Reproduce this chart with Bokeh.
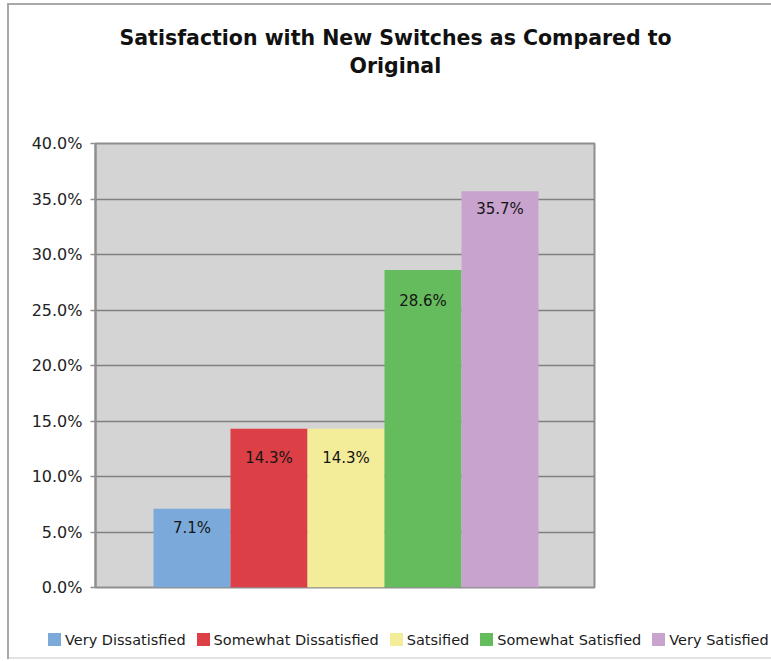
from bokeh.plotting import figure
from bokeh.layouts import column
from bokeh.models import (Range1d, NumeralTickFormatter, FixedTicker, Title, Div,
                          ColumnDataSource)
from bokeh.core.properties import value
from bokeh.embed import file_html
from bokeh.resources import INLINE

# ---- data ----
categories = ["Very Dissatisfied", "Somewhat Dissatisfied", "Satsified",
              "Somewhat Satisfied", "Very Satisfied"]
shares = [0.071, 0.143, 0.143, 0.286, 0.357]
y_ticks = [0.0, 0.05, 0.10, 0.15, 0.20, 0.25, 0.30, 0.35, 0.40]
title_lines = ["Satisfaction with New Switches as Compared to", "Original"]

# ---- style ----
colors = ["#7BA9D9", "#DC3F45", "#F3EC98", "#65BC5D", "#C8A3CD"]
label_drop_px = [19, 29, 29, 31, 18]
FONT = "DejaVu Sans"

p = figure(width=771, height=621, output_backend="svg", toolbar_location=None,
           x_range=Range1d(-1.253, 5.227), y_range=Range1d(0, 0.40),
           min_border_left=95, min_border_right=177, min_border_top=143,
           min_border_bottom=34)
p.title.visible = False
p.background_fill_color = "#D4D4D4"
p.border_fill_color = None
p.outline_line_color = "#8E8E8E"
p.outline_line_width = 2

p.xaxis.visible = False
p.xgrid.visible = False
p.ygrid.grid_line_color = "#808080"
p.ygrid.grid_line_width = 1.5

yax = p.yaxis[0]
yax.ticker = FixedTicker(ticks=y_ticks)
yax.formatter = NumeralTickFormatter(format="0.0%")
yax.minor_tick_line_color = None
yax.major_tick_in = 0
yax.major_tick_out = 5
yax.major_tick_line_color = "#8E8E8E"
yax.major_tick_line_width = 1.5
yax.axis_line_color = "#8E8E8E"
yax.axis_line_width = 2
yax.major_label_standoff = 8
yax.major_label_text_font = FONT
yax.major_label_text_font_size = "16px"
yax.major_label_text_color = "#222222"

xs = list(range(len(categories)))
src = ColumnDataSource(dict(x=xs, top=shares,
                            txt=[f"{v*100:.1f}%" for v in shares],
                            drop=label_drop_px))

for i, cat in enumerate(categories):
    p.vbar(x=[xs[i]], top=[shares[i]], width=1.0, bottom=0,
           fill_color=colors[i], line_color=None)

p.text(x="x", y="top", text="txt", source=src, text_align="center",
       text_baseline="middle", y_offset="drop", text_font=value(FONT),
       text_font_size="15px", text_color="#151515")

# titles: stacked outward from the frame (spacer first)
p.add_layout(Title(text=" ", text_font_size="1px", standoff=63), "above")
p.add_layout(Title(text=title_lines[1], align="left", offset=254, standoff=0,
                   text_font=FONT, text_font_style="bold", text_font_size="20.5px",
                   text_color="#111111"), "above")
p.add_layout(Title(text=title_lines[0], align="left", offset=24, standoff=4,
                   text_font=FONT, text_font_style="bold", text_font_size="20.5px",
                   text_color="#111111"), "above")

# ---- legend strip ----
item_html = "".join(
    f'<span style="display:inline-flex;align-items:center;margin-right:11px;flex:none">'
    f'<span style="display:inline-block;width:13px;height:13px;background:{c};'
    f'margin-right:4px"></span>{cat}</span>'
    for cat, c in zip(categories, colors))
legend_div = Div(
    text=(f'<div style="display:flex;align-items:center;height:38px;padding-left:48px;'
          f'box-sizing:border-box;width:771px;font-family:\'{FONT}\';font-size:14.5px;'
          f'color:#1a1a1a;white-space:nowrap;overflow:hidden">{item_html}</div>'),
    width=771, height=40, styles={"overflow": "hidden", "margin": "0"})

layout = column(p, legend_div, spacing=0)
layout.styles = {
    "background-color": "white",
    "background-image": ("linear-gradient(#A8A8A8, #A8A8A8), "
                         "linear-gradient(#A8A8A8, #A8A8A8), "
                         "linear-gradient(#E2E2E2, #E2E2E2)"),
    "background-position": "7px 3px, 7px 3px, 7px 657px",
    "background-size": "2px 656px, 764px 2px, 764px 2px",
    "background-repeat": "no-repeat",
}

open("out.html", "w").write(file_html(layout, INLINE))
